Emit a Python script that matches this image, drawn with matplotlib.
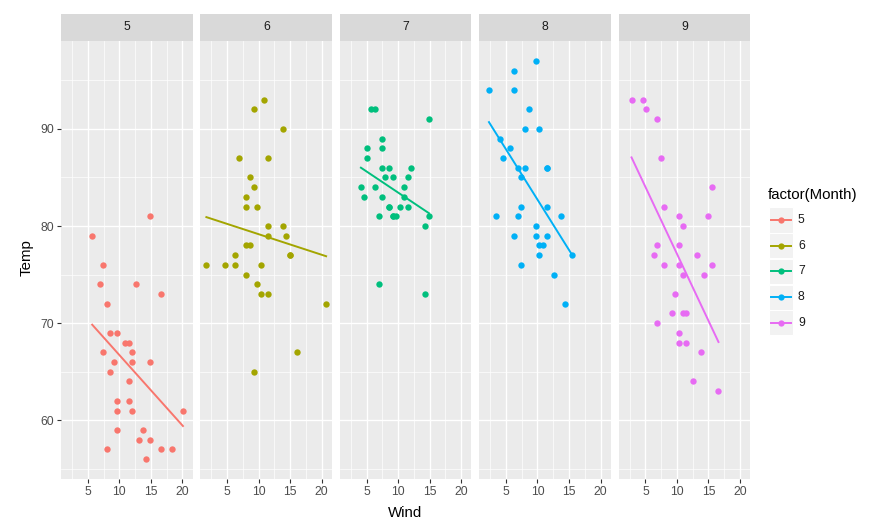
import matplotlib.pyplot as plt
import numpy as np
from matplotlib.lines import Line2D
from matplotlib.patches import Rectangle

plt.rcParams['font.family'] = ['Liberation Sans', 'DejaVu Sans']

# airquality: Wind / Temp per month
months = [5, 6, 7, 8, 9]
colors = ['#F8766D', '#A3A500', '#00BF7D', '#00B0F6', '#E76BF3']

wind_5 = [7.4, 8.0, 12.6, 11.5, 14.3, 14.9, 8.6, 13.8, 20.1, 8.6, 6.9, 9.7, 9.2, 10.9, 13.2, 11.5,
          12.0, 18.4, 11.5, 9.7, 9.7, 16.6, 9.7, 12.0, 16.6, 14.9, 8.0, 12.0, 14.9, 5.7, 7.4]
temp_5 = [67, 72, 74, 62, 56, 66, 65, 59, 61, 69, 74, 69, 66, 68, 58, 64,
          66, 57, 68, 62, 59, 73, 61, 61, 57, 58, 57, 67, 81, 79, 76]
wind_6 = [8.6, 9.7, 16.1, 9.2, 8.6, 14.3, 9.7, 6.9, 13.8, 11.5, 10.9, 9.2, 8.0, 13.8, 11.5,
          14.9, 20.7, 9.2, 11.5, 10.3, 6.3, 1.7, 4.6, 6.3, 8.0, 8.0, 10.3, 11.5, 14.9, 8.0]
temp_6 = [78, 74, 67, 84, 85, 79, 82, 87, 90, 87, 93, 92, 82, 80, 79,
          77, 72, 65, 73, 76, 77, 76, 76, 76, 75, 78, 73, 80, 77, 83]
wind_7 = [4.1, 9.2, 9.2, 10.9, 4.6, 10.9, 5.1, 6.3, 5.7, 7.4, 8.6, 14.3, 14.9, 14.9, 14.3, 6.9,
          10.3, 6.3, 5.1, 11.5, 6.9, 9.7, 11.5, 8.6, 8.0, 8.6, 12.0, 7.4, 7.4, 7.4, 9.2]
temp_7 = [84, 85, 81, 84, 83, 83, 88, 92, 92, 89, 82, 73, 81, 91, 80, 81,
          82, 84, 87, 85, 74, 81, 82, 86, 85, 82, 86, 88, 86, 83, 81]
wind_8 = [6.9, 13.8, 7.4, 6.9, 7.4, 4.6, 4.0, 10.3, 8.0, 8.6, 11.5, 11.5, 11.5, 9.7, 11.5, 10.3,
          6.3, 7.4, 10.9, 10.3, 15.5, 14.3, 12.6, 9.7, 3.4, 8.0, 5.7, 9.7, 2.3, 6.3, 6.3]
temp_8 = [81, 81, 82, 86, 85, 87, 89, 90, 90, 92, 86, 86, 82, 80, 79, 77,
          79, 76, 78, 78, 77, 72, 75, 79, 81, 86, 88, 97, 94, 96, 94]
wind_9 = [6.9, 5.1, 2.8, 4.6, 7.4, 15.5, 10.9, 10.3, 10.9, 9.7, 14.9, 15.5, 6.3, 10.9, 11.5,
          6.9, 13.8, 10.3, 10.3, 8.0, 12.6, 9.2, 10.3, 10.3, 16.6, 6.9, 13.2, 14.3, 8.0, 11.5]
temp_9 = [91, 92, 93, 93, 87, 84, 80, 78, 75, 73, 81, 76, 77, 71, 71,
          78, 67, 76, 68, 82, 64, 71, 81, 69, 63, 70, 77, 75, 76, 68]

winds = [wind_5, wind_6, wind_7, wind_8, wind_9]
temps = [temp_5, temp_6, temp_7, temp_8, temp_9]

W, H = 876, 520
fig = plt.figure(figsize=(W / 100, H / 100), dpi=100)

panel_bg = '#EBEBEB'
strip_bg = '#D9D9D9'
tick_col = '#4D4D4D'

xlim = (0.75, 21.65)
ylim = (53.95, 99.05)

left0, pitch, pw = 61, 139.4, 131.7
ptop, pbot, strip_top = 41, 479, 14

for i, m in enumerate(months):
    x0 = left0 + i * pitch
    ax = fig.add_axes([x0 / W, (H - pbot) / H, pw / W, (pbot - ptop) / H])
    ax.set_facecolor(panel_bg)
    ax.set_xlim(xlim)
    ax.set_ylim(ylim)
    ax.set_xticks([5, 10, 15, 20])
    ax.set_xticks([2.5, 7.5, 12.5, 17.5], minor=True)
    ax.set_yticks([60, 70, 80, 90])
    ax.set_yticks([55, 65, 75, 85, 95], minor=True)
    ax.grid(which='major', color='white', linewidth=1.0)
    ax.grid(which='minor', color='white', linewidth=0.5)
    ax.set_axisbelow(True)
    for s in ax.spines.values():
        s.set_visible(False)
    ax.tick_params(which='minor', length=0)
    ax.tick_params(which='major', length=3, width=0.8, color='#333333',
                   labelsize=8.7, labelcolor=tick_col, pad=2)
    if i > 0:
        ax.tick_params(axis='y', which='both', left=False, labelleft=False)

    x = np.array(winds[i])
    y = np.array(temps[i])
    ax.scatter(x, y, s=21, color=colors[i], linewidths=0, zorder=3)
    b, a = np.polyfit(x, y, 1)
    xs = np.array([x.min(), x.max()])
    ax.plot(xs, a + b * xs, color=colors[i], linewidth=1.4, zorder=3)

    # facet strip
    sax = fig.add_axes([x0 / W, (H - ptop) / H, pw / W, (ptop - strip_top) / H])
    sax.set_facecolor(strip_bg)
    sax.set_xticks([])
    sax.set_yticks([])
    for s in sax.spines.values():
        s.set_visible(False)
    sax.text(0.5, 0.5, str(m), ha='center', va='center', fontsize=8.7,
             color='#1A1A1A', transform=sax.transAxes)

fig.text(405 / W, 1 - 513 / H, 'Wind', ha='center', va='center', fontsize=10.8)
fig.text(27 / W, 1 - 258 / H, 'Temp', ha='center', va='center', fontsize=10.8, rotation=90)

# legend
fig.text(768 / W, 1 - 195 / H, 'factor(Month)', ha='left', va='center', fontsize=10.8)
key_w, key_h = 24, 25
for i, m in enumerate(months):
    yc = 220 + i * 25.7
    fig.add_artist(Rectangle((769 / W, 1 - (yc + key_h / 2) / H), key_w / W, key_h / H,
                             transform=fig.transFigure, facecolor='#F2F2F2', edgecolor='white',
                             linewidth=0.8))
    fig.add_artist(Line2D([(769 + 2) / W, (769 + key_w - 2) / W], [1 - yc / H, 1 - yc / H],
                          transform=fig.transFigure, color=colors[i], linewidth=1.4))
    fig.add_artist(Line2D([(769 + key_w / 2) / W], [1 - yc / H], transform=fig.transFigure,
                          color=colors[i], marker='o', markersize=4.5, markeredgewidth=0))
    fig.text(798 / W, 1 - yc / H, str(m), ha='left', va='center', fontsize=8.7, color='#1A1A1A')

fig.savefig('out.png', dpi=100)
